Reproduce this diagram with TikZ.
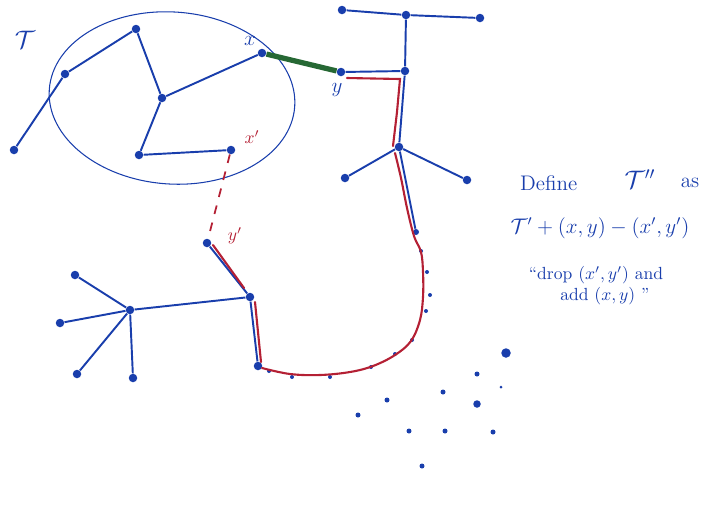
\documentclass[tikz,border=0pt]{standalone}
\usepackage{amsmath}
\usepackage{xcolor}
\definecolor{penblue}{RGB}{25,62,172}
\definecolor{penred}{RGB}{180,32,52}
\definecolor{pengreen}{RGB}{38,104,52}
\usetikzlibrary{calc}

\begin{document}
\begin{tikzpicture}[x=0.02cm, y=-0.02cm,
  dot/.style={circle, fill=penblue, inner sep=0pt, minimum size=1.7mm},
  speck/.style={circle, fill=penblue, inner sep=0pt, minimum size=0.8mm},
  blob/.style={circle, fill=penblue, inner sep=0pt, minimum size=1.5mm},
  edge/.style={penblue, line width=1.1pt},
  hilite/.style={penred, line width=1.2pt, line cap=round},
  bluelbl/.style={penblue, font=\large},
  redlbl/.style={penred, font=\normalsize}]
  \useasboundingbox (0,0) rectangle (716,512);

  % --- Tree T inside the loop ---
  \draw[penblue, line width=0.6pt, rotate around={-4:(172,98)}] (172,98) ellipse (123 and 86);
  \node[bluelbl, font=\Large] (tlabel) at (25,40) {$\mathcal{T}$};
  \node[dot] (ta) at (65,74) {};
  \node[dot] (tb) at (136,29) {};
  \node[dot] (tc) at (162,98) {};
  \node[dot] (x)  at (262,53) {};
  \node[dot] (td) at (139,155) {};
  \node[dot] (xp) at (231,150) {};
  \node[dot] (te) at (14,150) {};
  \draw[edge] (te) -- (ta) -- (tb) -- (tc) -- (x);
  \draw[edge] (tc) -- (td) -- (xp);
  \node[bluelbl] (xlbl) at (250,41) {$x$};
  \node[redlbl] (xplbl) at (252,137) {$x'$};

  % --- Right tree ---
  \node[dot] (rtl) at (342,10) {};
  \node[dot] (rtm) at (406,15) {};
  \node[dot] (rtr) at (480,18) {};
  \node[dot] (y)   at (341,72) {};
  \node[dot] (rp)  at (405,71) {};
  \node[dot] (rq)  at (399,147) {};
  \node[dot] (rql) at (345,178) {};
  \node[dot] (rqr) at (467,180) {};
  \node[dot, minimum size=1.2mm] (rr) at (416,232) {};
  \draw[edge] (rtl) -- (rtm) -- (rtr);
  \draw[edge] (rtm) -- (rp) -- (rq) -- (rr);
  \draw[edge] (y) -- (rp);
  \draw[edge] (rql) -- (rq) -- (rqr);
  \node[bluelbl] (ylbl) at (337,90) {$y$};

  % --- The new edge and the dropped edge ---
  \draw[pengreen, line width=3pt] (x) -- (y);
  \node[dot] (yp) at (207,243) {};
  \draw[penred, line width=1pt, dash pattern=on 5pt off 5pt] (xp) -- (yp);
  \node[redlbl] (yplbl) at (235,236) {$y'$};

  % --- Lower left tree ---
  \node[dot] (lu) at (250,297) {};
  \node[dot] (ls) at (258,366) {};
  \node[dot] (lh) at (130,310) {};
  \node[dot] (l1) at (75,275) {};
  \node[dot] (l2) at (60,323) {};
  \node[dot] (l3) at (77,374) {};
  \node[dot] (l4) at (133,378) {};
  \draw[edge] (yp) -- (lu) -- (ls);
  \draw[edge] (lh) -- (lu);
  \foreach \leaf in {l1,l2,l3,l4} \draw[edge] (lh) -- (\leaf);

  % dotted part of the path
  \foreach \px/\py [count=\i] in {421/251,427/272,430/295,426/311,412/340,395/354,371/367,330/377,292/377,269/371}
    \node[speck] (pd\i) at (\px,\py) {};

  % --- Highlighted path (red) ---
  \draw[hilite] (213,245) -- (244,288);
  \draw[hilite] (255,302) -- (261,362);
  \draw[hilite] plot[smooth, tension=0.6] coordinates {(262,368) (290,374) (320,375) (350,372) (373,366) (395,355) (411,341) (420,320) (423,297) (423,272) (421,252) (414,236) (407,208) (401,178) (395,153)};
  \draw[hilite] (393,146) -- (397,112) -- (400,79) -- (347,78);

  % --- Scattered dots ---
  \node[blob, minimum size=1.9mm] (s1) at (506,353) {};
  \node[blob] (s2) at (477,404) {};
  \foreach \px/\py [count=\i] in {477/374,443/392,387/400,358/415,409/431,445/431,493/432,422/466}
    \node[speck, minimum size=1mm] (sp\i) at (\px,\py) {};
  \node[speck, minimum size=0.6mm] (sq) at (501,387) {};

  % --- Note ---
  \node[penblue, font=\large, anchor=west] (def) at (514,183) {Define};
  \node[penblue, font=\Large] (tpp) at (640,179) {$\mathcal{T}''$};
  \node[penblue, font=\large] (as) at (690,183) {as};
  \node[penblue, font=\large] (formula) at (600,228) {$\mathcal{T}'+(x,y)-(x',y')$};
  \node[penblue, font=\normalsize, align=center] (quote) at (596,286) {``drop $(x',y')$ and\\ \quad add $(x,y)$ ''};
\end{tikzpicture}
\end{document}
